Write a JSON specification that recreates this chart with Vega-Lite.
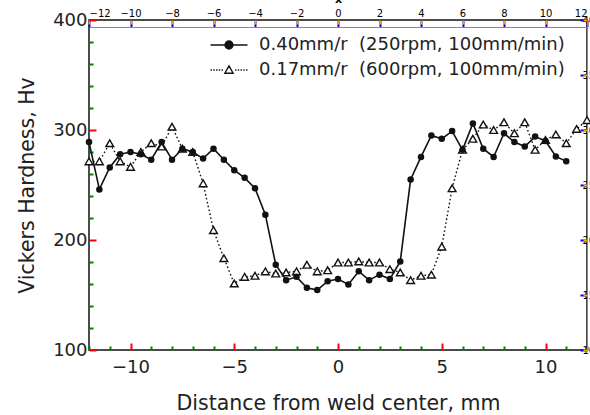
{
  "$schema": "https://vega.github.io/schema/vega-lite/v6.json",
  "width": 498,
  "height": 330,
  "autosize": "none",
  "padding": {"left": 89, "top": 20, "right": 3, "bottom": 65},
  "background": "white",
  "config": {"view": {"stroke": "#111", "strokeWidth": 1.5}, "font": "DejaVu Sans"},
  "data": {"values": [
    {"s":"a","x":-12,"hv":289},{"s":"a","x":-11.5,"hv":246},{"s":"a","x":-11,"hv":266},{"s":"a","x":-10.5,"hv":278},
    {"s":"a","x":-10,"hv":280},{"s":"a","x":-9.5,"hv":278},{"s":"a","x":-9,"hv":273},{"s":"a","x":-8.5,"hv":289},
    {"s":"a","x":-8,"hv":273},{"s":"a","x":-7.5,"hv":283},{"s":"a","x":-7,"hv":280},{"s":"a","x":-6.5,"hv":274},
    {"s":"a","x":-6,"hv":283},{"s":"a","x":-5.5,"hv":273},{"s":"a","x":-5,"hv":263.5},{"s":"a","x":-4.5,"hv":256.5},
    {"s":"a","x":-4,"hv":247},{"s":"a","x":-3.5,"hv":223},{"s":"a","x":-3,"hv":177.5},{"s":"a","x":-2.5,"hv":163.5},
    {"s":"a","x":-2,"hv":166.5},{"s":"a","x":-1.5,"hv":156.5},{"s":"a","x":-1,"hv":154.5},{"s":"a","x":-0.5,"hv":162.5},
    {"s":"a","x":0,"hv":164.5},{"s":"a","x":0.5,"hv":159.5},{"s":"a","x":1,"hv":171.5},{"s":"a","x":1.5,"hv":163.5},
    {"s":"a","x":2,"hv":168.5},{"s":"a","x":2.5,"hv":164.5},{"s":"a","x":3,"hv":180.5},{"s":"a","x":3.5,"hv":255},
    {"s":"a","x":4,"hv":275.5},{"s":"a","x":4.5,"hv":295},{"s":"a","x":5,"hv":292},{"s":"a","x":5.5,"hv":299},
    {"s":"a","x":6,"hv":282},{"s":"a","x":6.5,"hv":306},{"s":"a","x":7,"hv":283},{"s":"a","x":7.5,"hv":275.5},
    {"s":"a","x":8,"hv":297},{"s":"a","x":8.5,"hv":289},{"s":"a","x":9,"hv":285},{"s":"a","x":9.5,"hv":294},
    {"s":"a","x":10,"hv":290},{"s":"a","x":10.5,"hv":276},{"s":"a","x":11,"hv":271.5},
    {"s":"b","x":-12,"hv":271.5},{"s":"b","x":-11.5,"hv":271.5},{"s":"b","x":-11,"hv":288},{"s":"b","x":-10.5,"hv":271.5},
    {"s":"b","x":-10,"hv":266.5},{"s":"b","x":-9.5,"hv":280},{"s":"b","x":-9,"hv":288},{"s":"b","x":-8.5,"hv":285},
    {"s":"b","x":-8,"hv":303},{"s":"b","x":-7.5,"hv":283},{"s":"b","x":-7,"hv":280},{"s":"b","x":-6.5,"hv":251.5},
    {"s":"b","x":-6,"hv":209},{"s":"b","x":-5.5,"hv":183.5},{"s":"b","x":-5,"hv":160.5},{"s":"b","x":-4.5,"hv":166.5},
    {"s":"b","x":-4,"hv":167.5},{"s":"b","x":-3.5,"hv":171.5},{"s":"b","x":-3,"hv":169.5},{"s":"b","x":-2.5,"hv":170.5},
    {"s":"b","x":-2,"hv":171.5},{"s":"b","x":-1.5,"hv":177.5},{"s":"b","x":-1,"hv":171.5},{"s":"b","x":-0.5,"hv":172.5},
    {"s":"b","x":0,"hv":179.5},{"s":"b","x":0.5,"hv":179.5},{"s":"b","x":1,"hv":180.5},{"s":"b","x":1.5,"hv":179.5},
    {"s":"b","x":2,"hv":179.5},{"s":"b","x":2.5,"hv":173.5},{"s":"b","x":3,"hv":170.5},{"s":"b","x":3.5,"hv":163.5},
    {"s":"b","x":4,"hv":167.5},{"s":"b","x":4.5,"hv":168.5},{"s":"b","x":5,"hv":194},{"s":"b","x":5.5,"hv":247},
    {"s":"b","x":6,"hv":282},{"s":"b","x":6.5,"hv":292},{"s":"b","x":7,"hv":305},{"s":"b","x":7.5,"hv":300},
    {"s":"b","x":8,"hv":307},{"s":"b","x":8.5,"hv":297},{"s":"b","x":9,"hv":307},{"s":"b","x":9.5,"hv":282},
    {"s":"b","x":10,"hv":291},{"s":"b","x":10.5,"hv":296},{"s":"b","x":11,"hv":288},{"s":"b","x":11.5,"hv":301},
    {"s":"b","x":12,"hv":309}
  ]},
  "layer": [
    {
      "mark": {"type": "point", "filled": true, "opacity": 0},
      "encoding": {
        "x": {"field": "x", "type": "quantitative",
          "scale": {"domain": [-12, 12], "nice": false, "zero": false},
          "axis": {"orient": "bottom", "values": [-10, -5, 0, 5, 10], "offset": -7,
            "ticks": true, "tickSize": 7, "domainOpacity": 0, "gridOpacity": 0, "labelFlush": false,
            "tickColor": "red", "tickWidth": 2,
            "labelColor": "#222", "labelFont": "DejaVu Sans", "labelFontSize": 18, "labelPadding": 8,
            "title": "Distance from weld center, mm", "titleFont": "DejaVu Sans", "titleFontSize": 20.5,
            "titleFontWeight": "normal", "titleColor": "#222", "titlePadding": 17}},
        "y": {"field": "hv", "type": "quantitative",
          "scale": {"domain": [100, 400], "nice": false, "zero": false},
          "axis": {"orient": "left", "values": [100, 200, 300, 400], "offset": -7,
            "ticks": true, "tickSize": 7, "domainOpacity": 0, "gridOpacity": 0, "labelFlush": false,
            "tickColor": "red", "tickWidth": 2,
            "labelColor": "#222", "labelFont": "DejaVu Sans", "labelFontSize": 18, "labelPadding": 2,
            "title": "Vickers Hardness, Hv", "titleFont": "DejaVu Sans", "titleFontSize": 20.5,
            "titleFontWeight": "normal", "titleColor": "#222", "titlePadding": 15}},
        "shape": {"field": "s", "type": "nominal",
          "scale": {"domain": ["a", "b"], "range": [
            "M-2,0H2M-0.43,0A0.43,0.43,0,1,1,0.43,0A0.43,0.43,0,1,1,-0.43,0Z",
            "M-2,0H-1.85M-1.7,0H-1.55M-1.4,0H-1.25M-1.1,0H-0.95M-0.8,0H-0.65M0.65,0H0.8M0.95,0H1.1M1.25,0H1.4M1.55,0H1.7M1.85,0H2M-0.45,0.35L0,-0.45L0.45,0.35Z"]},
          "legend": {"orient": "none", "legendX": 130, "legendY": 15, "title": null, "padding": 0,
            "symbolSize": 342, "symbolOpacity": 1, "symbolStrokeColor": "#111", "symbolStrokeWidth": 1.4,
            "labelOffset": 20, "rowPadding": 6, "labelFont": "DejaVu Sans", "labelFontSize": 18, "labelColor": "#222",
            "labelExpr": "datum.value === 'a' ? '0.40mm/r\u00a0 (250rpm, 100mm/min)' : '0.17mm/r\u00a0 (600rpm, 100mm/min)'",
            "labelLimit": 400,
            "encode": {"symbols": {"update": {"stroke": {"value": "#111"}, "strokeWidth": {"value": 1.4}, "opacity": {"value": 1}}}}}},
        "fill": {"field": "s", "type": "nominal",
          "scale": {"domain": ["a", "b"], "range": ["#111111", "#ffffff"]},
          "legend": {"orient": "none", "legendX": 130, "legendY": 15, "title": null, "padding": 0,
            "symbolSize": 342, "symbolOpacity": 1, "symbolStrokeColor": "#111", "symbolStrokeWidth": 1.4,
            "labelOffset": 20, "rowPadding": 6, "labelFont": "DejaVu Sans", "labelFontSize": 18, "labelColor": "#222",
            "labelExpr": "datum.value === 'a' ? '0.40mm/r\u00a0 (250rpm, 100mm/min)' : '0.17mm/r\u00a0 (600rpm, 100mm/min)'",
            "labelLimit": 400,
            "encode": {"symbols": {"update": {"stroke": {"value": "#111"}, "strokeWidth": {"value": 1.4}, "opacity": {"value": 1}}}}}}
      }
    },
    {
      "mark": {"type": "point", "opacity": 0},
      "encoding": {
        "x": {"field": "x", "type": "quantitative",
          "scale": {"domain": [-12, 12]},
          "axis": {"orient": "bottom", "values": [-12,-11,-9,-8,-7,-6,-4,-3,-2,-1,1,2,3,4,6,7,8,9,11,12], "offset": -4,
            "ticks": true, "tickSize": 4, "labels": false, "title": null, "domainOpacity": 0, "gridOpacity": 0,
            "tickColor": "green", "tickWidth": 2}},
        "y": {"field": "hv", "type": "quantitative",
          "scale": {"domain": [100, 400]},
          "axis": {"orient": "left", "values": [120,140,160,180,220,240,260,280,320,340,360,380], "offset": -4,
            "ticks": true, "tickSize": 4, "labels": false, "title": null, "domainOpacity": 0, "gridOpacity": 0,
            "tickColor": "green", "tickWidth": 2}}
      }
    },
    {
      "mark": {"type": "point", "opacity": 0},
      "encoding": {
        "x": {"field": "x", "type": "quantitative",
          "scale": {"domain": [-12, 12]},
          "axis": {"orient": "top", "offset": -7, "tickSize": 7, "tickColor": "blue", "tickWidth": 2}},
        "y": {"field": "hv", "type": "quantitative",
          "scale": {"domain": [100, 400]},
          "axis": {"orient": "right", "tickSize": -7, "tickColor": "blue", "tickWidth": 2}}
      }
    },
    {
      "mark": {"type": "point", "opacity": 0},
      "encoding": {
        "x": {"field": "x", "type": "quantitative",
          "scale": {"domain": [-12, 12], "nice": false, "zero": false},
          "axis": {"orient": "top", "offset": -4,
            "ticks": true, "tickSize": 4, "labels": false, "title": null, "domainOpacity": 0, "gridOpacity": 0,
            "tickColor": "orange", "tickWidth": 2}},
        "y": {"field": "hv", "type": "quantitative",
          "scale": {"domain": [100, 400], "nice": false, "zero": false},
          "axis": {"orient": "right", "offset": -4,
            "ticks": true, "tickSize": 4, "labels": false, "title": null, "domainOpacity": 0, "gridOpacity": 0,
            "tickColor": "orange", "tickWidth": 2}}
      }
    },
    {
      "transform": [{"filter": "datum.s === 'b'"}],
      "mark": {"type": "line", "stroke": "#111", "strokeWidth": 1.4, "strokeDash": [1.6, 2.4]},
      "encoding": {
        "x": {"field": "x", "type": "quantitative", "scale": {"domain": [-12, 12], "nice": false, "zero": false}, "axis": null},
        "y": {"field": "hv", "type": "quantitative", "scale": {"domain": [100, 400], "nice": false, "zero": false}, "axis": null}
      }
    },
    {
      "transform": [{"filter": "datum.s === 'a'"}],
      "mark": {"type": "line", "stroke": "#111", "strokeWidth": 1.6},
      "encoding": {
        "x": {"field": "x", "type": "quantitative", "scale": {"domain": [-12, 12], "nice": false, "zero": false}, "axis": null},
        "y": {"field": "hv", "type": "quantitative", "scale": {"domain": [100, 400], "nice": false, "zero": false}, "axis": null}
      }
    },
    {
      "transform": [{"filter": "datum.s === 'b'"}],
      "mark": {"type": "point", "shape": "triangle-up", "filled": true, "fill": "#ffffff", "stroke": "#111", "strokeWidth": 1.4, "size": 60, "opacity": 1},
      "encoding": {
        "x": {"field": "x", "type": "quantitative", "scale": {"domain": [-12, 12], "nice": false, "zero": false}, "axis": null},
        "y": {"field": "hv", "type": "quantitative", "scale": {"domain": [100, 400], "nice": false, "zero": false}, "axis": null}
      }
    },
    {
      "transform": [{"filter": "datum.s === 'a'"}],
      "mark": {"type": "point", "shape": "circle", "filled": true, "fill": "#111", "size": 42, "opacity": 1},
      "encoding": {
        "x": {"field": "x", "type": "quantitative", "scale": {"domain": [-12, 12], "nice": false, "zero": false}, "axis": null},
        "y": {"field": "hv", "type": "quantitative", "scale": {"domain": [100, 400], "nice": false, "zero": false}, "axis": null}
      }
    }
  ],
  "resolve": {"axis": {"x": "independent", "y": "independent"}}
}
